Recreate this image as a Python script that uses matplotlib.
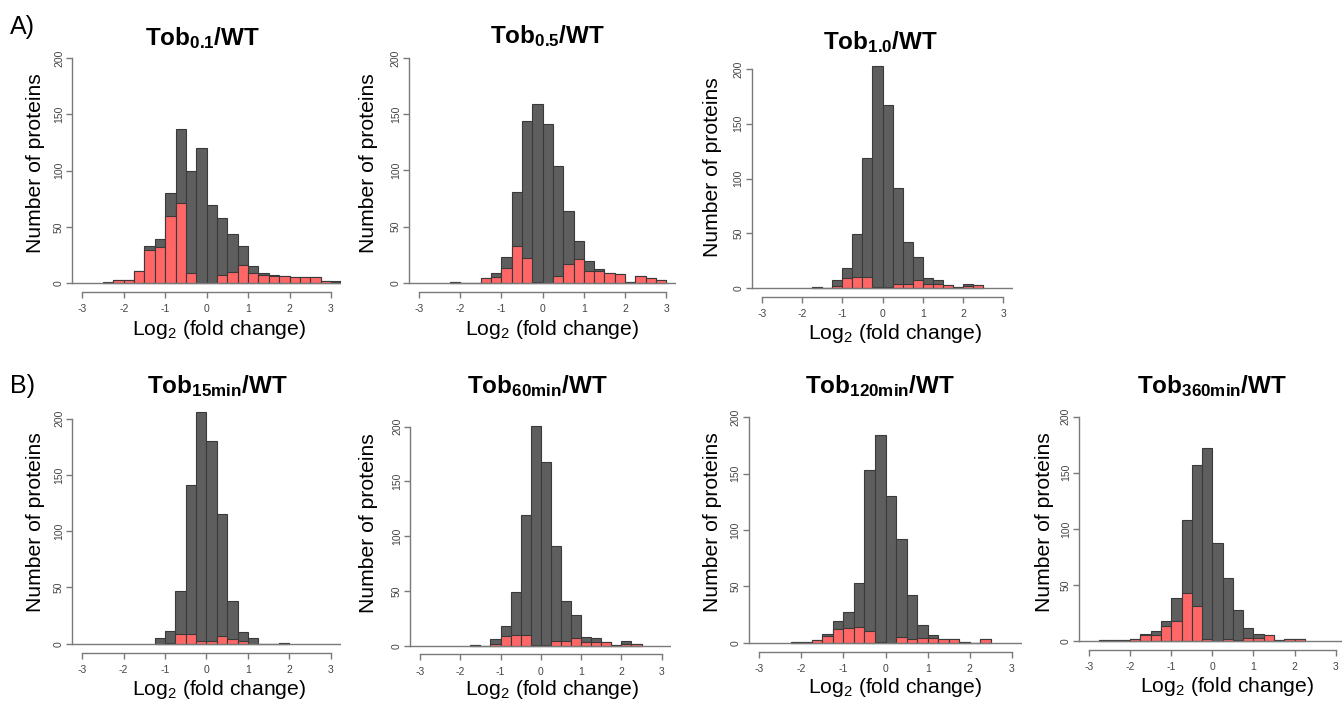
import matplotlib
matplotlib.use("Agg")
import matplotlib.pyplot as plt
import numpy as np

plt.rcParams['font.family'] = ['Liberation Sans', 'DejaVu Sans']
plt.rcParams['mathtext.fontset'] = 'custom'
plt.rcParams['mathtext.rm'] = 'Liberation Sans'
plt.rcParams['mathtext.bf'] = 'Liberation Sans:bold'
plt.rcParams['mathtext.it'] = 'Liberation Sans:italic'

# bin width of all histograms (log2 fold change)
BIN = 0.25

# Tob 0.1 / WT
a1_start = -2.5
a1_total = [1, 3, 3, 11, 33, 39, 80, 137, 100, 120, 69, 58, 44, 33, 15, 9, 7, 6, 5, 5, 5, 2, 2]
a1_red = [0, 3, 3, 11, 29, 32, 60, 71, 9, 0, 0, 7, 10, 16, 9, 7, 6, 6, 5, 5, 5, 2, 1]

# Tob 0.5 / WT
a2_start = -2.25
a2_total = [1, 0, 0, 4, 9, 23, 81, 144, 159, 141, 104, 64, 37, 19, 12, 9, 8, 1, 6, 4, 2]
a2_red = [1, 0, 0, 4, 5, 13, 33, 22, 1, 0, 6, 17, 21, 10, 10, 9, 8, 1, 6, 4, 2]

# Tob 1.0 / WT
a3_start = -1.75
a3_total = [1, 0, 7, 18, 49, 119, 203, 167, 91, 42, 28, 9, 7, 3, 1, 4, 3]
a3_red = [1, 0, 2, 9, 10, 10, 1, 1, 4, 4, 7, 4, 4, 3, 1, 2, 3]

# Tob 15min / WT
b1_start = -1.25
b1_total = [5, 11, 47, 141, 206, 180, 115, 38, 10, 5, 0, 0, 1]
b1_red = [0, 1, 9, 9, 2, 2, 7, 4, 2, 0, 0, 0, 1]

# Tob 60min / WT
b2_start = -1.75
b2_total = [1, 0, 6, 18, 49, 119, 201, 168, 91, 41, 28, 8, 7, 3, 1, 4, 2]
b2_red = [1, 0, 2, 9, 10, 10, 1, 1, 4, 4, 7, 3, 3, 3, 1, 2, 2]

# Tob 120min / WT
b3_start = -2.25
b3_total = [1, 1, 2, 8, 19, 27, 53, 153, 184, 130, 92, 42, 16, 7, 3, 3, 1, 0, 3]
b3_red = [1, 1, 2, 6, 12, 13, 14, 10, 1, 0, 5, 3, 4, 4, 3, 3, 1, 0, 3]

# Tob 360min / WT
b4_start = -2.75
b4_total = [1, 1, 1, 2, 6, 9, 18, 38, 108, 157, 172, 87, 56, 28, 12, 6, 5, 1, 2, 2]
b4_red = [1, 1, 1, 2, 5, 5, 13, 18, 43, 31, 2, 0, 2, 1, 3, 3, 5, 1, 2, 2]

titles = [r'$\mathbf{Tob_{0.1}/WT}$', r'$\mathbf{Tob_{0.5}/WT}$', r'$\mathbf{Tob_{1.0}/WT}$',
          r'$\mathbf{Tob_{15min}/WT}$', r'$\mathbf{Tob_{60min}/WT}$',
          r'$\mathbf{Tob_{120min}/WT}$', r'$\mathbf{Tob_{360min}/WT}$']
x_ticks = [-3, -2, -1, 0, 1, 2, 3]
y_ticks = [0, 50, 100, 150, 200]

W, H = 1342, 701
GRAY = '#5e5e5e'
RED = '#ff6666'
EDGE = '#3a3a3a'
AXIS = '#7a7a7a'


def addPanel(fig, xm3, xp3, y0, y200):
  # pixel positions of x=-3, x=3, y=0, y=200; R style 4% padding
  sx = (xp3 - xm3) / 6.0
  sy = (y0 - y200) / 200.0
  left = xm3 - 0.24 * sx
  right = xp3 + 0.24 * sx
  top = y200 - 8 * sy
  bottom = y0 + 8 * sy
  return fig.add_axes([left / W, 1 - bottom / H, (right - left) / W, (bottom - top) / H])


def drawHist(ax, start, total, red):
  edges = start + BIN * np.arange(len(total))
  ax.bar(edges, total, width=BIN, align='edge', color=GRAY, edgecolor=EDGE, linewidth=0.8)
  ax.bar(edges, red, width=BIN, align='edge', color=RED, edgecolor=EDGE, linewidth=0.8)
  ax.axhline(0, color=AXIS, linewidth=1.0, zorder=3)
  ax.set_xlim(-3.24, 3.24)
  ax.set_ylim(-8, 208)
  for s in ['top', 'right']:
    ax.spines[s].set_visible(False)
  ax.spines['left'].set_bounds(0, 200)
  ax.spines['bottom'].set_bounds(-3, 3)
  for s in ['left', 'bottom']:
    ax.spines[s].set_color(AXIS)
    ax.spines[s].set_linewidth(1.0)
  ax.set_xticks(x_ticks)
  ax.set_xticklabels([str(t) for t in x_ticks])
  ax.set_yticks(y_ticks)
  ax.set_yticklabels([str(t) for t in y_ticks], rotation=90, va='center')
  ax.tick_params(axis='both', colors=AXIS, labelcolor='#444444', labelsize=7.5, length=4, width=1.0)
  ax.tick_params(axis='x', pad=5)
  ax.tick_params(axis='y', pad=2)


def main():
  fig = plt.figure(figsize=(W / 100, H / 100), dpi=100)

  panels = [
      (a1_start, a1_total, a1_red, (82.3, 331.0, 283.0, 58.3)),
      (a2_start, a2_total, a2_red, (419.0, 666.3, 282.7, 58.3)),
      (a3_start, a3_total, a3_red, (761.7, 1003.3, 288.0, 69.0)),
      (b1_start, b1_total, b1_red, (82.3, 330.7, 643.7, 418.7)),
      (b2_start, b2_total, b2_red, (420.0, 661.7, 645.7, 426.7)),
      (b3_start, b3_total, b3_red, (759.0, 1012.0, 642.7, 417.3)),
      (b4_start, b4_total, b4_red, (1089.0, 1335.7, 641.0, 416.7)),
  ]
  # title (x center, baseline), ylabel center, xlabel (center, baseline)
  title_pos = [(203, 45), (548, 43), (881, 49), (217, 393), (537, 393), (880, 393), (1212, 393)]
  ylab_pos = [(36, 163), (368, 163), (712, 167), (36, 522), (368, 523), (712, 522), (1044, 522)]
  xlab_pos = [(219, 335), (552, 335), (895, 339), (219, 695), (552, 695), (895, 693), (1227, 692)]

  for i, (start, total, red, px) in enumerate(panels):
    ax = addPanel(fig, *px)
    drawHist(ax, start, total, red)
    tx, ty = title_pos[i]
    fig.text(tx / W, 1 - ty / H, titles[i], ha='center', va='baseline', fontsize=17.5)
    lx, ly = ylab_pos[i]
    fig.text(lx / W, 1 - ly / H, 'Number of proteins', rotation=90, ha='center', va='center',
             fontsize=15.2)
    bx, by = xlab_pos[i]
    fig.text(bx / W, 1 - by / H, r'Log$_2$ (fold change)', ha='center', va='baseline', fontsize=15.2)

  fig.text(10 / W, 1 - 34 / H, 'A)', ha='left', va='baseline', fontsize=18)
  fig.text(10 / W, 1 - 393 / H, 'B)', ha='left', va='baseline', fontsize=18)

  fig.savefig('out.png', dpi=100, facecolor='white')


if __name__ == '__main__':
  main()
